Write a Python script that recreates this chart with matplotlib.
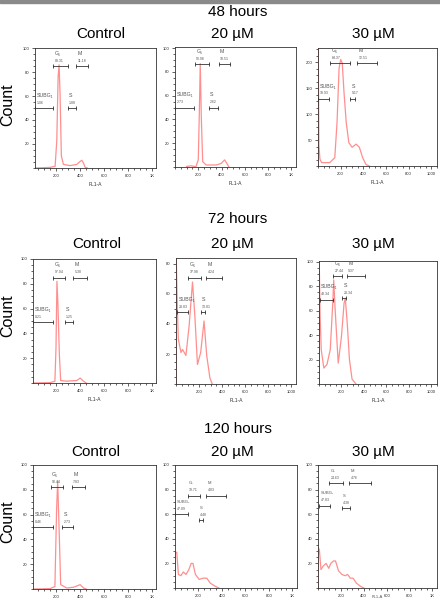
import matplotlib
matplotlib.use("Agg")
import matplotlib.pyplot as plt
from matplotlib.ticker import MultipleLocator, FixedLocator

plt.rcParams['font.family'] = ['Liberation Sans', 'DejaVu Sans']

W, H = 440, 607

# ---- data (FL1-A channel vs count) ----
time_titles = ["48 hours", "72 hours", "120 hours"]
dose_titles = ["Control", "20 \u00b5M", "30 \u00b5M"]

x_48_ctrl = [25, 150, 192, 206, 217, 225, 233, 244, 261, 317, 372, 400, 414, 428, 442, 460]
y_48_ctrl = [0, 0.5, 1.4, 23, 76, 86, 62, 10, 3, 2, 3, 5.5, 6.4, 4, 0.5, 0]
x_48_20 = [100, 136, 180, 200, 209, 217, 226, 238, 267, 354, 397, 426, 446, 464]
y_48_20 = [0.5, 1, 0.3, 6, 45, 87, 42, 4.5, 1.7, 1.7, 3, 6, 3, 0]
x_48_30 = [1, 2, 8, 17, 32, 104, 148, 168, 186, 200, 214, 229, 249, 272, 301, 336, 365, 394, 423, 452]
y_48_30 = [0, 225, 40, 13, 6.5, 6.5, 16, 84, 188, 205, 198, 143, 84, 45, 36, 42, 36, 16, 3, 0]

x_72_ctrl = [8, 150, 190, 199, 207, 215, 227, 238, 288, 372, 400, 428, 450]
y_72_ctrl = [0, 0.3, 1.4, 28, 82, 64, 23, 2, 1.5, 2, 4, 1.4, 0]
x_72_20 = [1, 2, 12, 20, 43, 57, 86, 114, 143, 163, 186, 214, 243, 266, 294, 314]
y_72_20 = [0, 84, 50, 30, 21, 23, 19, 39, 68, 46, 13, 21, 42, 19, 4, 0]
x_72_30 = [1, 2, 10, 20, 43, 71, 100, 123, 131, 143, 171, 200, 223, 234, 251, 271, 294, 329]
y_72_30 = [0, 100, 55, 28, 13, 16, 28, 67, 85, 62, 17, 39, 66, 70, 50, 20, 4, 0]

x_120_ctrl = [8, 150, 190, 204, 213, 224, 238, 288, 344, 400, 428, 450]
y_120_ctrl = [0, 0.3, 2, 64, 87, 51, 3.5, 0.8, 1.4, 3.5, 0.8, 0]
x_120_20 = [1, 2, 15, 29, 50, 71, 94, 118, 138, 153, 174, 206, 241, 271, 300, 344, 374]
y_120_20 = [0, 29, 29, 11, 10, 13, 11, 15, 20, 20, 11, 7, 8, 8, 4, 1.4, 0]
x_120_30 = [1, 2, 12, 26, 47, 71, 94, 112, 135, 153, 179, 209, 238, 259, 282, 306, 335, 371, 400]
y_120_30 = [0, 33, 31, 15, 18, 20, 16, 20, 22, 22, 14, 11, 10, 11, 8, 8, 4, 1.4, 0]

# gates: name, percent, start, end, level
gates_48_ctrl = [("G\u2081", "89.31", 178, 297, 85), ("M", "11.18", 369, 469, 85),
                 ("SUBG\u2081", "1.06", 25, 178, 50), ("S", "1.88", 297, 367, 50)]
gates_48_20 = [("G\u2081", "93.98", 171, 290, 86.5), ("M", "10.51", 374, 475, 86.5),
               ("SUBG\u2081", "2.73", 0, 165, 50), ("S", "2.62", 290, 368, 50)]
gates_48_30 = [("G\u2081", "64.37", 110, 278, 198), ("M", "12.51", 345, 519, 198),
               ("SUBG\u2081", "18.93", 3, 96, 129), ("S", "9.17", 284, 328, 129)]
gates_72_ctrl = [("G\u2081", "97.04", 176, 274, 85), ("M", "5.38", 344, 456, 85),
                 ("SUBG\u2081", "0.21", 8, 171, 49), ("S", "1.25", 271, 344, 49)]
gates_72_20 = [("G\u2081", "37.98", 106, 214, 71), ("M", "4.24", 263, 400, 71),
               ("SUBG\u2081", "23.83", 9, 106, 48), ("S", "13.81", 214, 251, 48)]
gates_72_30 = [("G\u2081", "27.44", 129, 206, 88), ("M", "9.37", 249, 406, 88),
               ("SUBG\u2081", "48.34", 6, 129, 69), ("S", "23.34", 206, 243, 70)]
gates_120_ctrl = [("G\u2081", "90.44", 154, 260, 82), ("M", "7.83", 330, 442, 82),
                  ("SUBG\u2081", "0.46", 8, 176, 50), ("S", "2.73", 252, 344, 50)]
gates_120_20 = [("G\u2081", "39.71", 109, 212, 75), ("M", "4.83", 265, 432, 75),
                ("SUBG\u2081", "47.89", 0, 109, 60), ("S", "4.48", 203, 241, 55)]
gates_120_30 = [("G\u2081", "24.63", 100, 218, 85), ("M", "4.76", 274, 459, 85),
                ("SUBG\u2081", "47.83", 9, 106, 67), ("S", "4.38", 209, 276, 65)]

panels = [
    [(x_48_ctrl, y_48_ctrl, gates_48_ctrl), (x_48_20, y_48_20, gates_48_20), (x_48_30, y_48_30, gates_48_30)],
    [(x_72_ctrl, y_72_ctrl, gates_72_ctrl), (x_72_20, y_72_20, gates_72_20), (x_72_30, y_72_30, gates_72_30)],
    [(x_120_ctrl, y_120_ctrl, gates_120_ctrl), (x_120_20, y_120_20, gates_120_20), (x_120_30, y_120_30, gates_120_30)],
]

x_ticks = [200, 400, 600, 800, 1000]
x_labels_k = ["200", "400", "600", "800", "1K"]
x_labels_full = ["200", "400", "600", "800", "1000"]

# ---- layout (pixel boxes: left, right, top, bottom) ----
boxes = [
    [(35, 156, 48, 168), (175, 296, 47, 167), (318, 437, 48, 166)],
    [(33, 156, 259, 383), (176, 296, 258, 384), (319, 437, 261, 384)],
    [(33, 156, 465, 589), (175, 297, 465, 588), (318, 437, 465, 588)],
]
xlims = [[(25, 1030), (0, 1040), (0, 1050)],
         [(8, 1030), (0, 1040), (0, 1050)],
         [(8, 1030), (0, 1040), (0, 1040)]]
ylims = [[100, 101, 227], [100, 84, 100.5], [100, 100, 100]]
yticks = [[[20, 40, 60, 80, 100], [20, 40, 60, 80, 100], [50, 100, 150, 200]],
          [[20, 40, 60, 80, 100], [20, 40, 60, 80], [20, 40, 60, 80, 100]],
          [[20, 40, 60, 80, 100], [20, 40, 60, 80, 100], [20, 40, 60, 80, 100]]]
xlab_sets = [[x_labels_k, x_labels_k, x_labels_full],
             [x_labels_k, x_labels_full, x_labels_full],
             [x_labels_k, x_labels_k, x_labels_k]]
time_y = [12, 219, 429]
title_y = [34, 244, 452]
title_x = [[101, 232, 373], [97, 232, 373], [96, 232, 373]]
count_y = [105, 316, 522]

fig = plt.figure(figsize=(W / 100, H / 100), dpi=100)
fig.patches.append(plt.Rectangle((0, 1 - 3 / H), 1, 3 / H, transform=fig.transFigure,
                                 color="#8a8a8a", zorder=0))

curve_col = "#ff8f8f"
gate_col = "#333333"
txt_col = "#555555"

for r in range(3):
    fig.text(238 / W, 1 - time_y[r] / H, time_titles[r], ha="center", va="center", fontsize=11)
    fig.text(8 / W, 1 - count_y[r] / H, "Count", ha="center", va="center", rotation=90, fontsize=11.5)
    for c in range(3):
        l, rr, t, b = boxes[r][c]
        ax = fig.add_axes([l / W, 1 - b / H, (rr - l) / W, (b - t) / H])
        fig.text(title_x[r][c] / W, 1 - title_y[r] / H, dose_titles[c], ha="center", va="center", fontsize=11)
        xs, ys, gates = panels[r][c]
        ax.plot(xs, ys, color=curve_col, lw=0.9, solid_joinstyle="round")
        small = (r == 2 and c > 0)
        for name, val, g0, g1, gy in gates:
            ax.plot([g0, g1], [gy, gy], color=gate_col, lw=0.6, marker="|", ms=2.5, mew=0.6)
            ax.annotate(val, (g0, gy), xytext=(1, 2.5), textcoords="offset points",
                        fontsize=2.5, color=txt_col, ha="left", va="bottom")
            ax.annotate(name, (g0, gy), xytext=(1, 7.5), textcoords="offset points",
                        fontsize=3 if small else 3.8, color=txt_col, ha="left", va="bottom")
        ax.set_xlim(*xlims[r][c])
        ax.set_ylim(0, ylims[r][c])
        ax.xaxis.set_major_locator(FixedLocator(x_ticks))
        ax.set_xticklabels(xlab_sets[r][c])
        ax.xaxis.set_minor_locator(MultipleLocator(50))
        ax.set_yticks(yticks[r][c])
        ax.yaxis.set_minor_locator(MultipleLocator(50 / 4 if c == 2 and r == 0 else 5))
        ax.tick_params(which="both", direction="out", width=0.5, labelsize=3, pad=2, colors="#222222")
        ax.tick_params(which="major", length=2.2)
        ax.tick_params(which="minor", length=1.2)
        for s in ax.spines.values():
            s.set_linewidth(0.6)
            s.set_color("#333333")
        if r < 2:
            ax.set_xlabel("FL1-A", fontsize=3.6, labelpad=3, color="#333333")
        elif c == 2:
            ax.text(0.5, -0.075, "FL1-A", transform=ax.transAxes, fontsize=3, ha="center",
                    va="center", color="#555555")

fig.savefig("out.png", dpi=100)
